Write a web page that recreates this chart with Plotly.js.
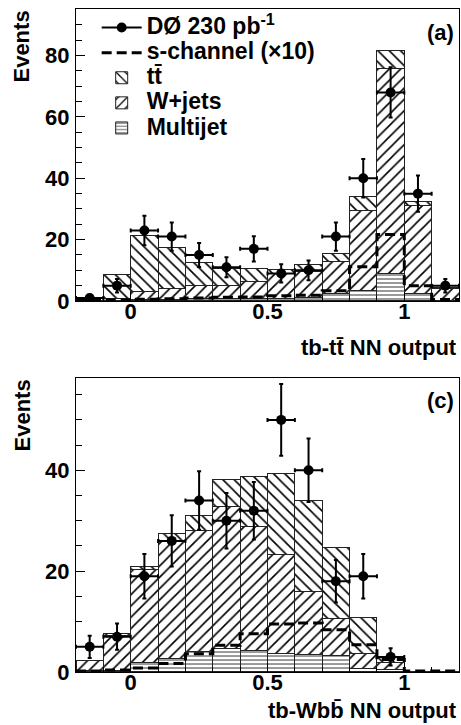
<!DOCTYPE html>
<html><head><meta charset="utf-8">
<script src="https://cdn.plot.ly/plotly-3.0.1.min.js"></script>
<style>html,body{margin:0;padding:0;background:#fff;}#chart{width:461px;height:725px;}</style>
</head><body><div id="chart"></div>
<script>
// bin centres (NN output, bins of 0.1)
const binCenters = [-0.15,-0.05,0.05,0.15,0.25,0.35,0.45,0.55,0.65,0.75,0.85,0.95,1.05,1.15];
const binWidth = 0.1;

// ---- panel (a): tb-ttbar NN output ----
const dataA     = [1, 5, 23, 21, 15, 11, 17, 9, 10, 21, 40, 68, 35, 5];
const errA      = [1.0, 2.2, 4.8, 4.6, 3.9, 3.3, 4.1, 3.0, 3.2, 4.6, 6.3, 8.2, 5.9, 2.2];
const multijetA = [0.2, 0.3, 0.5, 0.6, 0.7, 0.8, 0.8, 0.9, 1.0, 2.4, 3.5, 9.0, 2.5, 0.3];
const wjetsA    = [0.1, 0.5, 2.5, 3.5, 4.2, 4.2, 5.7, 7.9, 8.6, 10.4, 25.9, 66.7, 28.6, 3.7];
const ttbarA    = [0.0, 7.7, 18.5, 13.3, 7.5, 5.7, 4.2, 1.5, 2.4, 2.7, 4.6, 5.9, 1.3, 0.3];
const schanA    = [0.2, 0.3, 0.6, 0.7, 1.0, 1.2, 1.3, 1.7, 1.9, 3.3, 11.2, 21.7, 5.0, 0.5];

// ---- panel (c): tb-Wbb NN output ----
const dataC     = [5, 7, 19, 26, 34, 30, 32, 50, 40, 18, 19, 3, null, null];
const errC      = [2.2, 2.6, 4.4, 5.1, 5.8, 5.5, 5.7, 7.1, 6.3, 4.2, 4.4, 1.7, null, null];
const multijetC = [0.3, 0.3, 1.8, 2.7, 4.1, 4.6, 4.3, 3.6, 3.4, 3.2, 0.7, 0.4, 0, 0];
const wjetsC    = [1.9, 6.9, 18.5, 23.1, 24.0, 28.2, 24.5, 19.7, 12.5, 7.4, 2.9, 1.4, 0, 0];
const ttbarC    = [0.0, 0.4, 0.7, 1.7, 2.9, 5.4, 9.9, 16.1, 18.1, 14.1, 7.2, 1.2, 0, 0];
const schanC    = [0.2, 0.4, 0.8, 1.7, 3.6, 5.3, 7.6, 9.5, 9.7, 8.4, 5.4, 2.5, 0.2, 0.2];

// tick labels
const xTickVals = [0, 0.5, 1];
const xTickText = ['0', '0.5', '1'];
const yTickValsA = [0, 20, 40, 60, 80];
const yTickValsC = [0, 20, 40];

// legend / title texts
const nameData = 'DØ 230 pb<sup>-1</sup>';
const nameSchan = 's-channel (\u00d710)';
const nameTtbar = 'tt\u0304';
const nameWjets = 'W+jets';
const nameMulti = 'Multijet';
const titleA = 'tb-tt\u0304 NN output';
const titleC = 'tb-Wbb\u0304 NN output';

const FONT = 'Liberation Sans, Arial, Helvetica, sans-serif';
function big(t){ return '<span style="font-size:23px">' + t + '</span>'; }

const edges = binCenters.map(c => c - binWidth/2).concat([binCenters[binCenters.length-1] + binWidth/2]);
function stepY(v){ return v.concat([v[v.length-1]]); }

function barTrace(y, name, shape, psize, xa, ya, show, rank){
  return {type:'bar', x:binCenters, y:y, width:binWidth, name:big(name), xaxis:xa, yaxis:ya,
    showlegend:show, legendrank:rank,
    marker:{color:'white', line:{color:'#222', width:1},
      pattern:{shape:shape, fgcolor:'black', bgcolor:'white', size:psize, solidity:0.2}},
    hoverinfo:'skip'};
}
function schanTrace(y, xa, ya, show){
  return {type:'scatter', mode:'lines', x:edges, y:stepY(y), xaxis:xa, yaxis:ya, name:big(nameSchan),
    showlegend:show, legendrank:2, line:{shape:'hv', dash:'10px,5px', width:3, color:'black'}};
}
function dataTrace(y, e, xa, ya){
  return {type:'scatter', mode:'markers', x:binCenters, y:y, xaxis:xa, yaxis:ya, showlegend:false,
    marker:{size:10, color:'black'},
    error_y:{type:'data', array:e, visible:true, color:'black', thickness:2, width:2},
    error_x:{type:'constant', value:binWidth/2, visible:true, color:'black', thickness:2, width:2}};
}

const traces = [
  barTrace(multijetA, nameMulti, '-', 4, 'x', 'y', true, 5),
  barTrace(wjetsA, nameWjets, '/', 8, 'x', 'y', true, 4),
  barTrace(ttbarA, nameTtbar, '\\', 8, 'x', 'y', true, 3),
  schanTrace(schanA, 'x', 'y', true),
  dataTrace(dataA, errA, 'x', 'y'),
  {type:'scatter', mode:'lines+markers', x:[null], y:[null], name:big(nameData), legendrank:1,
    marker:{size:10, color:'black'}, line:{color:'black', width:2}},
  barTrace(multijetC, nameMulti, '-', 4, 'x2', 'y2', false, 5),
  barTrace(wjetsC, nameWjets, '/', 8, 'x2', 'y2', false, 4),
  barTrace(ttbarC, nameTtbar, '\\', 8, 'x2', 'y2', false, 3),
  schanTrace(schanC, 'x2', 'y2', false),
  dataTrace(dataC, errC, 'x2', 'y2')
];

const tickFont = {family:FONT, size:22, color:'black', weight:'bold'};
function xAxis(anchor){
  return {anchor:anchor, domain:[0,1], range:[-0.2,1.2], tickvals:xTickVals, ticktext:xTickText.map(t => '<b>'+t+'</b>'),
    ticks:'inside', ticklen:9, tickwidth:1, tickcolor:'black',
    minor:{ticks:'inside', dtick:0.1, ticklen:5, tickwidth:1, tickcolor:'black'},
    showline:true, mirror:true, linecolor:'black', linewidth:1, showgrid:false, zeroline:false,
    tickfont:tickFont, ticklabelstandoff:-9, fixedrange:true};
}
function yAxis(anchor, dom, rng, tv){
  return {anchor:anchor, domain:dom, range:rng, tickvals:tv, ticktext:tv.map(v => '<b>'+v+'</b>'),
    ticks:'inside', ticklen:9, tickwidth:1, tickcolor:'black',
    minor:{ticks:'inside', dtick:5, ticklen:6, tickwidth:1, tickcolor:'black'},
    showline:true, mirror:true, linecolor:'black', linewidth:1, showgrid:false, zeroline:false,
    tickfont:tickFont, ticklabelstandoff:1, fixedrange:true};
}

const annFont = {family:FONT, size:22, color:'black', weight:'bold'};
const layout = {
  width:461, height:725, margin:{l:76, r:2, t:9, b:53},
  paper_bgcolor:'white', plot_bgcolor:'white',
  barmode:'stack', bargap:0,
  xaxis: xAxis('y'),
  yaxis: yAxis('x', [0.5596, 1], [0, 95.2], yTickValsA),
  xaxis2: xAxis('y2'),
  yaxis2: yAxis('x2', [0, 0.4434], [0, 58.3], yTickValsC),
  showlegend:true,
  legend:{x:0.054, y:0.9985, xanchor:'left', yanchor:'top', traceorder:'normal',
    font:{family:FONT, size:17, color:'black', weight:'bold'}, bgcolor:'rgba(0,0,0,0)', itemwidth:40,
    tracegroupgap:0},
  annotations:[
    {text:'<b>'+titleA+'</b>', xref:'paper', yref:'paper', x:1, y:0.4887, xanchor:'right', yanchor:'middle', showarrow:false, font:annFont},
    {text:'<b>'+titleC+'</b>', xref:'paper', yref:'paper', x:1, y:-0.0588, xanchor:'right', yanchor:'middle', showarrow:false, font:annFont},
    {text:'<b>Events</b>', xref:'paper', yref:'paper', x:-0.141, y:0.9434, xanchor:'center', yanchor:'middle', textangle:-90, showarrow:false, font:annFont},
    {text:'<b>Events</b>', xref:'paper', yref:'paper', x:-0.141, y:0.3869, xanchor:'center', yanchor:'middle', textangle:-90, showarrow:false, font:annFont},
    {text:'<b>(a)</b>', xref:'paper', yref:'paper', x:0.992, y:0.965, xanchor:'right', yanchor:'middle', showarrow:false, font:annFont},
    {text:'<b>(c)</b>', xref:'paper', yref:'paper', x:0.992, y:0.409, xanchor:'right', yanchor:'middle', showarrow:false, font:annFont}
  ]
};

Plotly.newPlot('chart', traces, layout, {staticPlot:true, displayModeBar:false});
</script>
</body></html>
